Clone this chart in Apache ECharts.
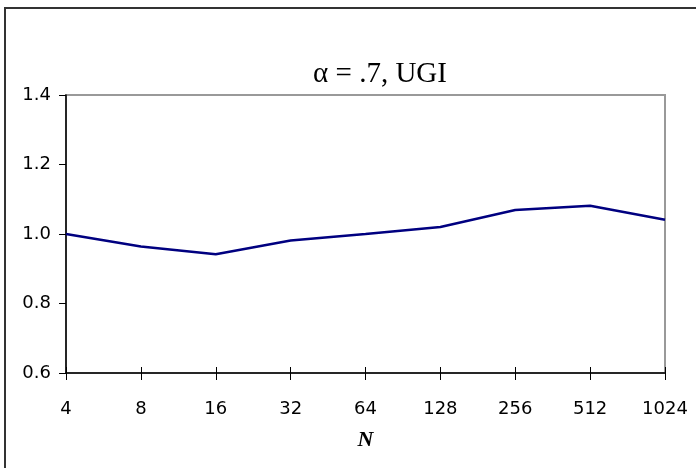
<!DOCTYPE html>
<html>
	<head>
		<meta charset="utf-8">
		<title>alpha .7 UGI</title>
	</head>
	<body style="margin:0;background:#fff;">
		<div id="container" style="width: 696px;height:468px;"></div>
	</body>
	<script src="https://cdn.jsdelivr.net/npm/echarts@6/dist/echarts.min.js"></script>
	<script type="text/javascript">
		'use strict'
		// N 的取值（类目轴）
		var categories = ['4', '8', '16', '32', '64', '128', '256', '512', '1024'];
		// 各点的值
		var values = [1.0, 0.964, 0.942, 0.981, 1.0, 1.02, 1.069, 1.081, 1.041];
		var yTicks = ['0.6', '0.8', '1.0', '1.2', '1.4'];

		var labelFont = '"DejaVu Sans", sans-serif';
		var serifFont = '"Liberation Serif", "DejaVu Serif", serif';
		var myCharts = echarts.init(document.getElementById('container'));
		var option = {
			animation: false,
			title: {
				text: 'α = .7, UGI',
				left: 375,
				top: 55,
				textAlign: 'center',
				textStyle: {
					fontFamily: serifFont,
					fontWeight: 'normal',
					fontSize: 29,
					color: '#000'
				}
			},
			// 外框
			graphic: [{
				type: 'rect',
				shape: { x: 5, y: 8, width: 720, height: 480 },
				style: { fill: 'none', stroke: '#333', lineWidth: 2 },
				silent: true
			}],
			grid: {
				left: 66,
				right: 31,
				top: 95,
				bottom: 95,
				show: true,
				borderColor: '#999',
				borderWidth: 2
			},
			xAxis: [{
				type: 'category',
				data: categories,
				boundaryGap: false,
				name: 'N',
				nameLocation: 'middle',
				nameGap: 56,
				nameTextStyle: {
					fontFamily: serifFont,
					fontStyle: 'italic',
					fontWeight: 'bold',
					fontSize: 22,
					color: '#000'
				},
				axisLine: { lineStyle: { color: '#000', width: 1.5 } },
				axisTick: { length: 7, lineStyle: { color: '#000' } },
				axisLabel: {
					margin: 27,
					fontFamily: labelFont,
					fontSize: 18,
					color: '#000'
				},
				splitLine: { show: false }
			}, {
				// 只用于画向内的刻度
				type: 'category',
				data: categories,
				boundaryGap: false,
				position: 'bottom',
				axisLine: { show: false },
				axisTick: { inside: true, length: 6, lineStyle: { color: '#000' } },
				axisLabel: { show: false },
				splitLine: { show: false }
			}],
			yAxis: {
				type: 'value',
				min: 0.6,
				max: 1.4,
				interval: 0.2,
				axisLine: { show: true, lineStyle: { color: '#000', width: 1.5 } },
				axisTick: { show: true, length: 7, lineStyle: { color: '#000' } },
				axisLabel: {
					margin: 15,
					fontFamily: labelFont,
					fontSize: 18,
					color: '#000',
					formatter: function(v) {
						var idx = Math.round((v - 0.6) / 0.2);
						return yTicks[idx];
					}
				},
				splitLine: { show: false }
			},
			series: [{
				type: 'line',
				data: values,
				symbol: 'none',
				lineStyle: { color: '#000080', width: 2.5 }
			}]
		};
		myCharts.setOption(option);
	</script>
</html>
